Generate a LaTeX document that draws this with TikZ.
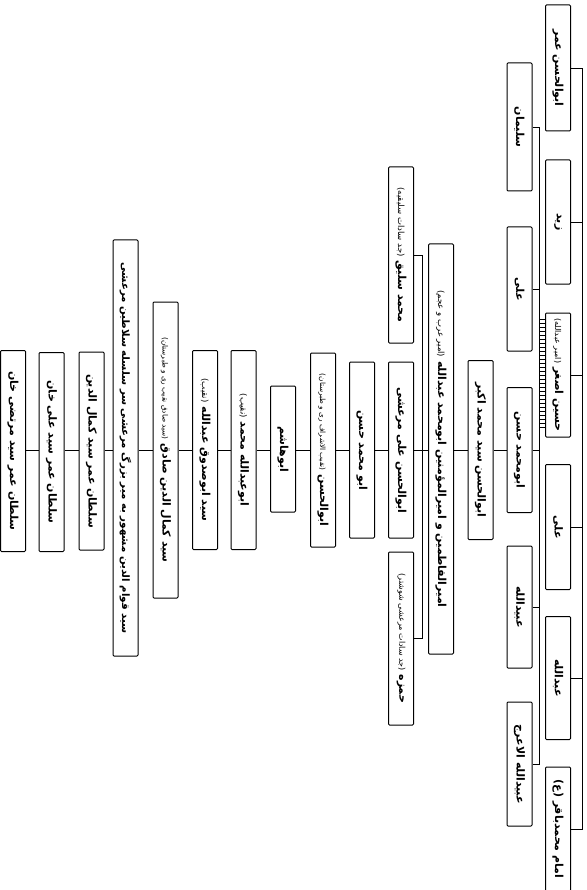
\documentclass[tikz,border=0pt]{standalone}
\usepackage{fontspec}
\usepackage{graphicx}
\usepackage{tikz}
\usetikzlibrary{calc}
\TeXXeTstate=1
\newfontfamily\arabicfont[Script=Arabic]{DejaVu Sans}
\newcommand{\fa}[2][11]{\rotatebox{-90}{\arabicfont\bfseries\fontsize{#1}{12}\selectfont\beginR #2\endR}}
\newcommand{\fasm}[2][8.5]{{\mdseries\fontsize{#1}{9}\selectfont #2}}

\begin{document}
\begin{tikzpicture}[x=1pt, y=-1pt,
  box/.style={rectangle, rounded corners=1pt, draw=black, line width=1pt,
              fill=white, minimum width=25pt, inner sep=0pt},
  ln/.style={line width=0.9pt},
]
\useasboundingbox (0,0) rectangle (586,890);

%% first row: sons
\node[box, minimum height=126pt] (omar)     at (558,68)  {\fa{ابوالحسن عمر}};
\node[box, minimum height=124pt] (zeyd)     at (558,222) {\fa{زید}};
\node[box, minimum height=124pt] (hosein)   at (558,375) {\fa{حسین اصغر \fasm[8]{(امیر عبدالله)}}};
\node[box, minimum height=125pt] (ali)      at (558,527) {\fa{علی}};
\node[box, minimum height=123pt] (abdallah) at (558,678) {\fa{عبدالله}};
\node[box, minimum height=124pt] (baqer)    at (558,829) {\fa{امام محمدباقر (ع)}};

%% second row: sons of Hosein Asghar
\node[box, minimum height=128pt] (soleyman)   at (519.5,127) {\fa{سلیمان}};
\node[box, minimum height=124pt] (alib)       at (519.5,289) {\fa{علی}};
\node[box, minimum height=125pt] (hasanb)     at (519.5,450) {\fa{ابومحمد حسن}};
\node[box, minimum height=122pt] (obeydallah) at (519.5,607) {\fa{عبیدالله}};
\node[box, minimum height=124pt] (aaraj)      at (519.5,764) {\fa{عبیدالله الاعرج}};

%% the line down to the Marashi sultans
\node[box, minimum height=179pt] (akbar) at (480.5,450) {\fa{ابوالحسن سید محمد اکبر}};
\node[box, minimum height=410pt] (amir)  at (441,449)
  {\fa{امیرالفاطمین و امیرالمؤمنین ابومحمد عبدالله \fasm{(امیر عرب و عجم)}}};
\node[box, minimum height=176pt] (saliq)   at (401,255)   {\fa{محمد سلیق \fasm{(جد سادات سلیقیه)}}};
\node[box, minimum height=176pt] (marashi) at (401,450)   {\fa{ابوالحسن علی مرعشی}};
\node[box, minimum height=173pt] (hamze)   at (401,638.5) {\fa{حمزه \fasm[8]{(جد سادات مرعشی شوشتر)}}};

\node[box, minimum height=176pt] (hasanc)   at (362,450)   {\fa{ابو محمد حسن}};
\node[box, minimum height=194pt] (naqib)    at (323,450)   {\fa{ابوالحسن \fasm[7.3]{(نقیب الاشراف ری و طبرستان)}}};
\node[box, minimum height=126pt] (hashem)   at (283,449)   {\fa{ابوهاشم}};
\node[box, minimum height=199pt] (mohammad) at (243.5,450) {\fa{ابوعبدالله محمد \fasm{(نقیب)}}};
\node[box, minimum height=199pt] (sadugh)   at (205,450)   {\fa{سید ابوصدوق عبدالله \fasm{(نقیب)}}};
\node[box, minimum height=296pt] (sadeq)    at (165.5,450)
  {\fa{سید کمال الدین صادق \fasm[7.3]{(سید صادق نقیب ری و طبرستان)}}};
\node[box, minimum height=416pt] (qavam)    at (125.5,448)
  {\fa[10.2]{سید قوام الدین مشهور به میر بزرگ مرعشی سر سلسله سلاطین مرعشی}};
\node[box, minimum height=198pt] (kamal)    at (91.5,451)  {\fa{سلطان عمر سید کمال الدین}};
\node[box, minimum height=199pt] (alikhan)  at (51.5,452)  {\fa{سلطان عمر سید علی خان}};
\node[box, minimum height=201pt] (morteza)  at (13,451)    {\fa{سلطان عمر سید مرتضی خان}};

%% trunks
\coordinate (t1) at (582,0);
\coordinate (t2) at (539,0);
\coordinate (t3) at (422,0);

\draw[ln] (omar.east) -- (omar.east -| t1) -- (baqer.east -| t1) -- (baqer.east);
\foreach \n in {zeyd,hosein,ali,abdallah}
  \draw[ln] (\n.east) -- (\n.east -| t1);

\draw[ln] (soleyman.east) -- (soleyman.east -| t2) -- (aaraj.east -| t2) -- (aaraj.east);
\foreach \n in {alib,hasanb,obeydallah}
  \draw[ln] (\n.east) -- (\n.east -| t2);
% ladder to Hosein Asghar
\foreach \k in {7,11,...,117}
  \draw[line width=0.6pt] ($(hosein.north west)+(0,\k)$) -- ($(hosein.north west -| t2)+(0,\k)$);

\draw[ln] (saliq.east) -- (saliq.east -| t3) -- (hamze.east -| t3) -- (hamze.east);

%% main line
\foreach \a/\b in {hasanb/akbar,akbar/amir,amir/marashi,marashi/hasanc,hasanc/naqib,
                   naqib/hashem,hashem/mohammad,mohammad/sadugh,sadugh/sadeq,
                   sadeq/qavam,qavam/kamal,kamal/alikhan,alikhan/morteza}
  \draw[ln] (\a.west |- hasanb.west) -- (\b.east |- hasanb.west);

\end{tikzpicture}
\end{document}
